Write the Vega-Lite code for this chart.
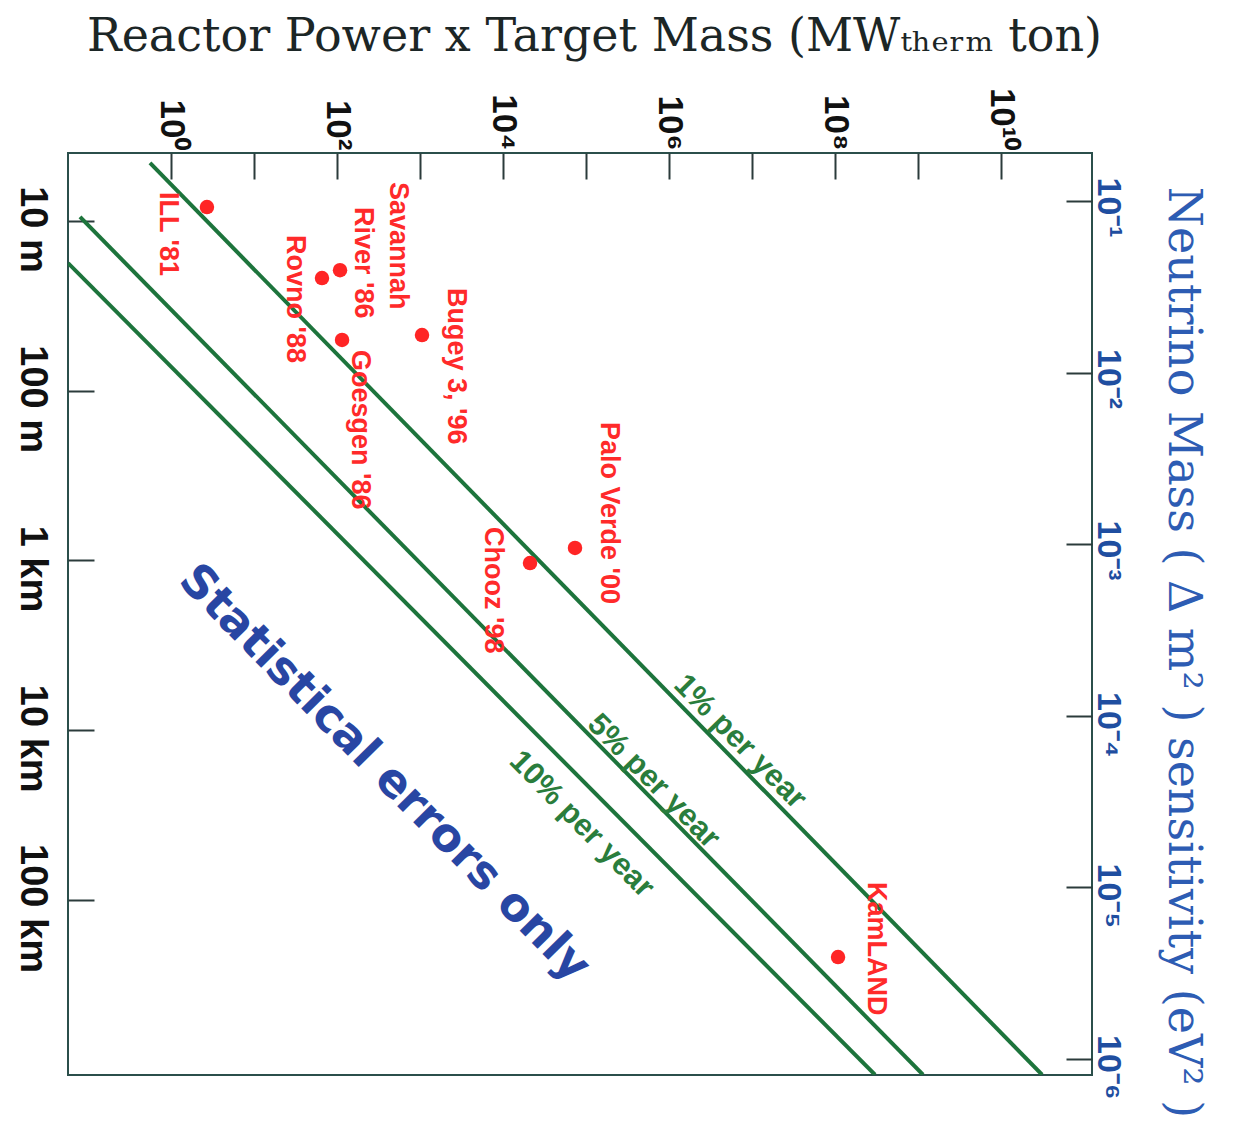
{
  "$schema": "https://vega.github.io/schema/vega-lite/v6.json",
  "width": 1024,
  "height": 922,
  "autosize": {"type": "none"},
  "padding": {"left": 68, "top": 153, "right": 141, "bottom": 56},
  "background": "white",
  "config": {
    "view": {"stroke": "#2b4f4b", "strokeWidth": 2},
    "axis": {"grid": false, "domain": false}
  },
  "datasets": {
    "lines": [
      {"series": "1%", "pm": 0.558, "L": 4.55},
      {"series": "1%", "pm": 3.12e10, "L": 1.07e6},
      {"series": "5%", "pm": 0.0801, "L": 9.47},
      {"series": "5%", "pm": 1.148e9, "L": 1.07e6},
      {"series": "10%", "pm": 0.0575, "L": 17.7},
      {"series": "10%", "pm": 3.03e8, "L": 1.07e6}
    ],
    "expts": [
      {"name": "ILL '81", "pm": 2.71, "L": 8.28},
      {"name": "Savannah River '86", "pm": 108.7, "L": 19.5},
      {"name": "Rovno '88", "pm": 65.9, "L": 21.7},
      {"name": "Goesgen '86", "pm": 115, "L": 50.2},
      {"name": "Bugey 3, '96", "pm": 1057, "L": 47},
      {"name": "Chooz '98", "pm": 21150, "L": 1035},
      {"name": "Palo Verde '00", "pm": 73640, "L": 843},
      {"name": "KamLAND", "pm": 1.087e8, "L": 217000}
    ],
    "exptLabels": [
      {"label": "ILL '81", "pm": 0.92, "L": 6.75},
      {"label": "Savannah", "pm": 543, "L": 5.89},
      {"label": "River '86", "pm": 205.6, "L": 8.27},
      {"label": "Rovno '88", "pm": 31.2, "L": 12.09},
      {"label": "Goesgen '86", "pm": 189, "L": 57.5},
      {"label": "Bugey 3, '96", "pm": 2716, "L": 24.8},
      {"label": "Palo Verde '00", "pm": 189200, "L": 152.7},
      {"label": "Chooz '98", "pm": 7580, "L": 635},
      {"label": "KamLAND", "pm": 3.12e8, "L": 78300}
    ],
    "lineLabels": [
      {"label": "1% per year", "pm": 1.1e6, "L": 5500},
      {"label": "5% per year", "pm": 100000, "L": 9400},
      {"label": "10% per year", "pm": 11500, "L": 15500}
    ],
    "stat": [
      {"label": "Statistical errors only", "pm": 1.18, "L": 1340}
    ],
    "dm2": [
      {"dm2": 0.1},
      {"dm2": 0.000001}
    ]
  },
  "layer": [
    {
      "encoding": {
        "x": {
          "field": "pm",
          "type": "quantitative",
          "scale": {"type": "log", "domain": [0.0574, 1.247e11], "nice": false},
          "axis": {
            "orient": "top",
            "values": [1, 10, 100, 1000, 10000, 100000, 1000000, 10000000, 100000000, 1000000000, 10000000000],
            "labelExpr": "datum.value==1?'10⁰':datum.value==100?'10²':datum.value==10000?'10⁴':datum.value==1000000?'10⁶':datum.value==100000000?'10⁸':datum.value==10000000000?'10¹⁰':''",
            "labelAngle": 90,
            "labelAlign": "right",
            "labelBaseline": "middle",
            "labelFont": "Liberation Sans",
            "labelFontWeight": "bold",
            "labelFontSize": 35,
            "labelColor": "#111111",
            "labelPadding": 29,
            "labelOverlap": false,
            "labelFlush": false,
            "tickSize": -26,
            "tickWidth": 2,
            "tickColor": "#2b3b3b",
            "title": "Reactor Power x Target Mass (MWₜₕₑᵣₘ ton)",
            "titleFont": "DejaVu Serif",
            "titleFontSize": 46,
            "titleFontWeight": "normal",
            "titleColor": "#1c2626",
            "titleX": 526,
            "titleY": -103,
            "titleAlign": "center",
            "titleBaseline": "alphabetic",
            "titleAngle": 0,
            "titleLimit": 1200
          }
        },
        "y": {
          "field": "L",
          "type": "quantitative",
          "scale": {"type": "log", "domain": [3.977, 1074000], "nice": false, "reverse": true},
          "axis": {
            "orient": "left",
            "values": [10, 100, 1000, 10000, 100000],
            "labelExpr": "datum.value==10?'10 m':datum.value==100?'100 m':datum.value==1000?'1 km':datum.value==10000?'10 km':datum.value==100000?'100 km':''",
            "labelAngle": 90,
            "labelAlign": "center",
            "labelBaseline": "top",
            "labelFont": "Liberation Sans",
            "labelFontWeight": "bold",
            "labelFontSize": 38,
            "labelColor": "#111111",
            "labelPadding": 44,
            "labelOffset": 8,
            "labelOverlap": false,
            "labelFlush": false,
            "tickSize": -26,
            "tickWidth": 2,
            "tickColor": "#2b3b3b",
            "title": null
          }
        }
      },
      "layer": [
        {
          "data": {"name": "lines"},
          "mark": {"type": "line", "color": "#1d743c", "strokeWidth": 4, "clip": true},
          "encoding": {"detail": {"field": "series"}}
        },
        {
          "data": {"name": "expts"},
          "mark": {"type": "point", "filled": true, "color": "#ff2525", "size": 210, "opacity": 1}
        },
        {
          "data": {"name": "exptLabels"},
          "mark": {"type": "text", "angle": 90, "align": "left", "baseline": "middle", "font": "Liberation Sans", "fontWeight": "bold", "fontSize": 27, "color": "#ff2a2a"},
          "encoding": {"text": {"field": "label"}}
        },
        {
          "data": {"name": "lineLabels"},
          "mark": {"type": "text", "angle": 45.5, "align": "left", "baseline": "alphabetic", "font": "Liberation Sans", "fontWeight": "bold", "fontSize": 31, "color": "#2a7d3c"},
          "encoding": {"text": {"field": "label"}}
        },
        {
          "data": {"name": "stat"},
          "mark": {"type": "text", "angle": 45.5, "align": "left", "baseline": "alphabetic", "font": "DejaVu Sans", "fontWeight": "bold", "fontSize": 46, "color": "#2846a3"},
          "encoding": {"text": {"field": "label"}}
        }
      ]
    },
    {
      "data": {"name": "dm2"},
      "mark": {"type": "point", "opacity": 0},
      "encoding": {
        "y": {
          "field": "dm2",
          "type": "quantitative",
          "scale": {"type": "log", "domain": [8.02e-7, 0.1905], "nice": false},
          "axis": {
            "orient": "right",
            "values": [0.1, 0.01, 0.001, 0.0001, 0.00001, 0.000001],
            "labelExpr": "datum.value==0.1?'10⁻¹':datum.value==0.01?'10⁻²':datum.value==0.001?'10⁻³':datum.value==0.0001?'10⁻⁴':datum.value==0.00001?'10⁻⁵':datum.value==0.000001?'10⁻⁶':''",
            "labelAngle": 90,
            "labelAlign": "left",
            "labelBaseline": "alphabetic",
            "labelFont": "Liberation Sans",
            "labelFontWeight": "bold",
            "labelFontSize": 34,
            "labelColor": "#1f4ea0",
            "labelPadding": 31,
            "labelOffset": -24,
            "labelOverlap": false,
            "labelFlush": false,
            "tickSize": -26,
            "tickWidth": 2,
            "tickColor": "#2b3b3b",
            "title": "Neutrino Mass ( Δ m² ) sensitivity (eV² )",
            "titleFont": "DejaVu Serif",
            "titleFontSize": 46,
            "titleFontWeight": "normal",
            "titleColor": "#2d5cb3",
            "titleAngle": 90,
            "titleX": 76,
            "titleY": 499,
            "titleAlign": "center",
            "titleBaseline": "alphabetic",
            "titleLimit": 1200
          }
        }
      }
    }
  ],
  "resolve": {"scale": {"y": "independent"}}
}
